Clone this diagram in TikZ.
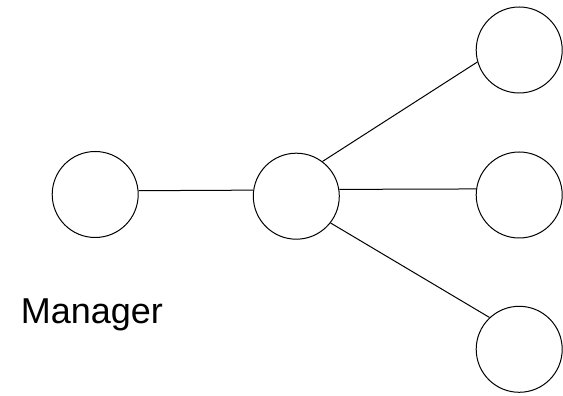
\documentclass[tikz,border=0pt]{standalone}
\usepackage{fontspec}
\setmainfont{Liberation Sans}

\begin{document}
\begin{tikzpicture}[x=1pt,y=1pt]
\tikzstyle{peer}=[circle,draw,line width=1pt,minimum size=86pt,inner sep=0pt]
\tikzstyle{link}=[line width=1pt]
\useasboundingbox (0,0) rectangle (563,396);
\node[peer] (client) at (95.2,201.5) {};
\node[peer] (hub) at (296.3,199.8) {};
\node[peer] (top) at (519.2,346) {};
\node[peer] (mid) at (519.2,201) {};
\node[peer] (bot) at (519.2,46.7) {};
\node[anchor=base west,inner sep=0pt,font=\fontsize{36}{40}\selectfont] (label) at (20.7,72.7) {Manager};
\draw[link] (client.5) -- (hub.172.7);
\draw[link] (hub.53.8) -- (top.196.4);
\draw[link] (hub.9) -- (mid.172);
\draw[link] (hub.-38) -- (bot.133.8);
\end{tikzpicture}
\end{document}
